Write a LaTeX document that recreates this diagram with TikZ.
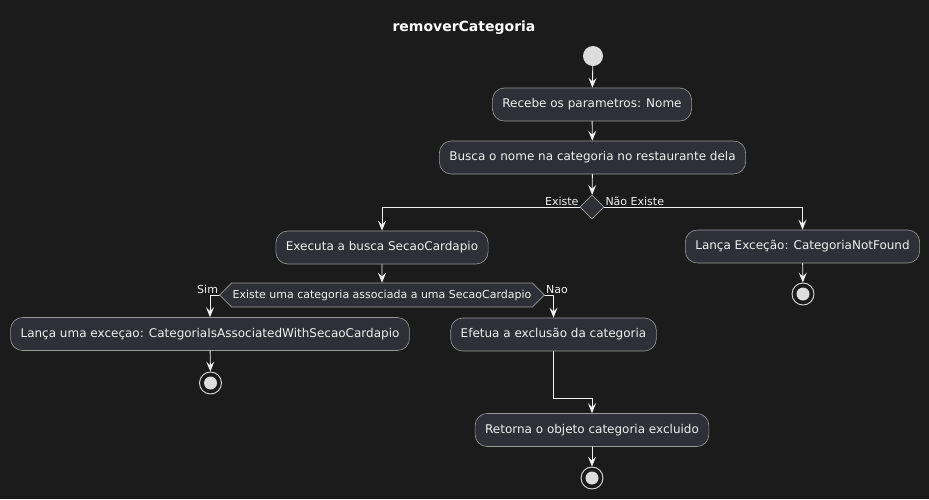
\documentclass[tikz,border=0pt]{standalone}
\usepackage{fontspec}
\setmainfont{DejaVu Sans}
\usetikzlibrary{positioning,calc,shapes.geometric,shapes.symbols,arrows.meta}

\definecolor{bgCol}{HTML}{1B1B1B}
\definecolor{boxFill}{HTML}{2F2F37}
\definecolor{boxLine}{HTML}{9A9A9A}
\definecolor{inkCol}{HTML}{F0F0F0}
\definecolor{dotCol}{HTML}{DDDDDD}

\begin{document}
\begin{tikzpicture}[x=1pt,y=-1pt, line cap=round,line join=round,
  act/.style={draw=boxLine, fill=boxFill, rounded corners=12pt, text=inkCol,
    font=\fontsize{12}{14}\selectfont, minimum height=33pt, inner xsep=10pt, line width=0.6pt},
  cond/.style={diamond, draw=boxLine, fill=boxFill, minimum width=24pt, minimum height=24pt,
    inner sep=0pt, line width=0.6pt},
  hexa/.style={signal, signal to=east and west, signal pointer angle=90, draw=boxLine,
    fill=boxFill, text=inkCol, font=\fontsize{11}{13}\selectfont, minimum height=24pt,
    inner xsep=1pt, inner ysep=0pt, line width=0.6pt},
  startdot/.style={circle, fill=dotCol, minimum size=20pt, inner sep=0pt},
  stopdot/.style={circle, draw=dotCol, line width=0.9pt, minimum size=22pt, inner sep=0pt,
    path picture={\fill[dotCol] (path picture bounding box.center) circle (6.5pt);}},
  flow/.style={draw=inkCol, line width=0.9pt, -{Stealth[length=10pt,width=8pt,inset=4pt]}},
  lbl/.style={text=inkCol, font=\fontsize{11}{13}\selectfont, inner sep=1pt}]

  % ---- page
  \fill[bgCol] (0,0) rectangle (929,499);
  \useasboundingbox (0,0) rectangle (929,499);

  \node[text=white, font=\bfseries\fontsize{14}{16}\selectfont] (Title) at (464,28) {removerCategoria};

  % ---- main column
  \node[startdot] (Start) at (593,56) {};
  \node[act] (Recebe) at (592,104.5) {Recebe os parametros: Nome};
  \node[act] (Busca) at (592.5,157.5) {Busca o nome na categoria no restaurante dela};
  \node[cond] (TemCat) at (592,207) {};

  % ---- branch: existe
  \node[act] (Executa) at (382,247.5) {Executa a busca SecaoCardapio};
  \node[hexa] (Associada) at (382,295) {Existe uma categoria associada a uma SecaoCardapio};
  \node[act] (LancaExc) at (210,334) {Lança uma exceçao: CategoriaIsAssociatedWithSecaoCardapio};
  \node[stopdot] (EndExc) at (210.5,383) {};
  \node[act] (Efetua) at (553.5,334.5) {Efetua a exclusão da categoria};
  \coordinate (Bend) at (553.5,398);
  \node[act] (Retorna) at (592,430) {Retorna o objeto categoria excluido};
  \node[stopdot] (EndOk) at (592,478) {};

  % ---- branch: nao existe
  \node[act] (NotFound) at (802.5,246.5) {Lança Exceção: CategoriaNotFound};
  \node[stopdot] (EndNF) at (803,294) {};

  % ---- labels
  \node[lbl, anchor=south east] (lExiste) at (TemCat.west) {Existe};
  \node[lbl, anchor=south west] (lNaoExiste) at (TemCat.east) {Não Existe};
  \node[lbl, anchor=south east] (lSim) at (Associada.west) {Sim};
  \node[lbl, anchor=south west] (lNao) at (Associada.east) {Nao};

  % ---- connectors
  \draw[flow] (Start) -- (Recebe);
  \draw[flow] (Recebe) -- (Busca);
  \draw[flow] (Busca) -- (TemCat);
  \draw[flow] (TemCat.west) -| (Executa.north);
  \draw[flow] (TemCat.east) -| (NotFound.north);
  \draw[flow] (NotFound) -- (EndNF);
  \draw[flow] (Executa) -- (Associada);
  \draw[flow] (Associada.west) -| (LancaExc.north);
  \draw[flow] (Associada.east) -| (Efetua.north);
  \draw[flow] (LancaExc) -- (EndExc);
  \draw[flow] (Efetua.south) -- (Bend) -| (Retorna.north);
  \draw[flow] (Retorna) -- (EndOk);

\end{tikzpicture}
\end{document}
